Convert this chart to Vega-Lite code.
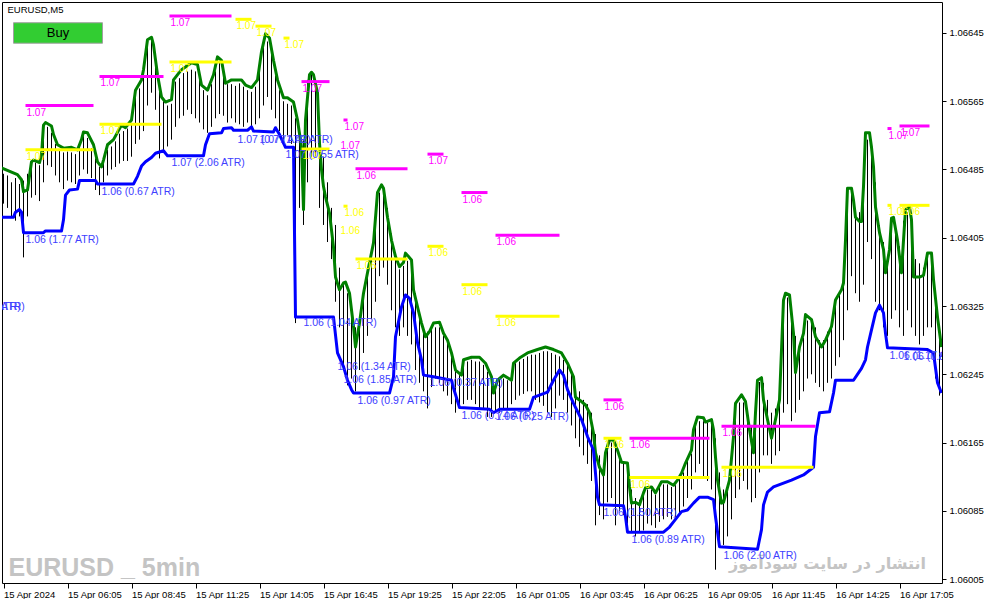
{
"$schema": "https://vega.github.io/schema/vega-lite/v6.json",
"width": 940, "height": 581,
"padding": {"left": 2, "top": 2, "right": 0, "bottom": 0},
"background": "white",
"config": {
 "view": {"stroke": "#000000", "strokeWidth": 1},
 "axis": {"domain": false, "grid": false, "tickColor": "#000000", "labelColor": "#000000", "labelFont": "Liberation Sans, sans-serif", "labelFontSize": 9.5, "title": null}
},
"datasets": {
 "bars": [
{"i":0,"p":1.0648,"l":1.06445},{"i":2,"p":1.06478,"l":1.0644},{"i":4,"p":1.0647,"l":1.0643},{"i":6,"p":1.06475,"l":1.06425},{"i":8,"p":1.06468,"l":1.0643},{"i":10,"p":1.06472,"l":1.06382},{"i":12,"p":1.0648,"l":1.0643},{"i":14,"p":1.0649,"l":1.06452},{"i":16,"p":1.06493,"l":1.06455},{"i":18,"p":1.0649,"l":1.06448},
{"i":20,"p":1.0653,"l":1.0647},{"i":22,"p":1.06535,"l":1.0649},{"i":24,"p":1.06528,"l":1.06488},{"i":26,"p":1.06515,"l":1.06478},{"i":28,"p":1.06508,"l":1.0647},{"i":30,"p":1.06505,"l":1.06462},{"i":32,"p":1.06506,"l":1.06472},{"i":34,"p":1.06505,"l":1.0647},{"i":36,"p":1.06503,"l":1.06468},{"i":38,"p":1.06512,"l":1.06478},
{"i":40,"p":1.06524,"l":1.06485},{"i":42,"p":1.06522,"l":1.0648},{"i":44,"p":1.0651,"l":1.06475},{"i":46,"p":1.06498,"l":1.06461},{"i":48,"p":1.06488,"l":1.06455},{"i":50,"p":1.06492,"l":1.0647},{"i":52,"p":1.06508,"l":1.06478},{"i":54,"p":1.06512,"l":1.06485},{"i":56,"p":1.06518,"l":1.06488},{"i":58,"p":1.06527,"l":1.06492},
{"i":60,"p":1.0653,"l":1.06495},{"i":62,"p":1.06533,"l":1.06495},{"i":64,"p":1.06538,"l":1.065},{"i":66,"p":1.0657,"l":1.06515},{"i":68,"p":1.0658,"l":1.0652},{"i":70,"p":1.06596,"l":1.0653},{"i":72,"p":1.06632,"l":1.0656},{"i":74,"p":1.06636,"l":1.06575},{"i":76,"p":1.0661,"l":1.06555},{"i":78,"p":1.0658,"l":1.06498},
{"i":80,"p":1.06565,"l":1.06505},{"i":82,"p":1.0656,"l":1.06512},{"i":84,"p":1.06562,"l":1.0652},{"i":86,"p":1.06588,"l":1.06535},{"i":88,"p":1.06592,"l":1.06545},{"i":90,"p":1.06598,"l":1.06548},{"i":92,"p":1.066,"l":1.06555},{"i":94,"p":1.06602,"l":1.0655},{"i":96,"p":1.066,"l":1.06545},{"i":98,"p":1.0659,"l":1.0654},
{"i":100,"p":1.06578,"l":1.06532},{"i":102,"p":1.06572,"l":1.06528},{"i":104,"p":1.06585,"l":1.06535},{"i":106,"p":1.066,"l":1.06545},{"i":108,"p":1.0661,"l":1.0655},{"i":110,"p":1.06595,"l":1.06548},{"i":112,"p":1.06585,"l":1.0654},{"i":114,"p":1.06585,"l":1.06545},{"i":116,"p":1.06583,"l":1.0654},{"i":118,"p":1.06586,"l":1.06538},
{"i":120,"p":1.06582,"l":1.06535},{"i":122,"p":1.06578,"l":1.0654},{"i":124,"p":1.06576,"l":1.06535},{"i":126,"p":1.06582,"l":1.06538},{"i":128,"p":1.06605,"l":1.06545},{"i":130,"p":1.06628,"l":1.0656},{"i":132,"p":1.06635,"l":1.0657},{"i":134,"p":1.0662,"l":1.06555},{"i":136,"p":1.06595,"l":1.06545},{"i":138,"p":1.06578,"l":1.0653},
{"i":140,"p":1.06565,"l":1.0652},{"i":142,"p":1.06562,"l":1.06525},{"i":144,"p":1.0656,"l":1.06515},{"i":146,"p":1.06545,"l":1.06305},{"i":148,"p":1.0653,"l":1.0644},{"i":150,"p":1.0652,"l":1.0642},{"i":152,"p":1.0659,"l":1.0647},{"i":154,"p":1.06597,"l":1.065},{"i":156,"p":1.0659,"l":1.065},{"i":158,"p":1.0654,"l":1.0644},
{"i":160,"p":1.065,"l":1.0642},{"i":162,"p":1.0647,"l":1.064},{"i":164,"p":1.0644,"l":1.0638},{"i":166,"p":1.0642,"l":1.0633},{"i":168,"p":1.0637,"l":1.063},{"i":170,"p":1.06352,"l":1.0625},{"i":172,"p":1.0634,"l":1.06232},{"i":174,"p":1.0633,"l":1.0624},{"i":176,"p":1.063,"l":1.06225},{"i":178,"p":1.06303,"l":1.0625},
{"i":180,"p":1.06335,"l":1.0627},{"i":182,"p":1.0636,"l":1.0629},{"i":184,"p":1.06388,"l":1.0631},{"i":186,"p":1.06425,"l":1.0633},{"i":188,"p":1.06458,"l":1.0636},{"i":190,"p":1.06455,"l":1.0637},{"i":192,"p":1.0644,"l":1.0635},{"i":194,"p":1.0641,"l":1.0632},{"i":196,"p":1.0638,"l":1.063},{"i":198,"p":1.06368,"l":1.0629},
{"i":200,"p":1.06372,"l":1.063},{"i":202,"p":1.06378,"l":1.0629},{"i":204,"p":1.06372,"l":1.0628},{"i":206,"p":1.0634,"l":1.0625},{"i":208,"p":1.06315,"l":1.06235},{"i":210,"p":1.063,"l":1.06225},{"i":212,"p":1.06295,"l":1.06205},{"i":214,"p":1.06298,"l":1.0623},{"i":216,"p":1.063,"l":1.0624},{"i":218,"p":1.063,"l":1.06235},
{"i":220,"p":1.0629,"l":1.06225},{"i":222,"p":1.06282,"l":1.0622},{"i":224,"p":1.06265,"l":1.0621},{"i":226,"p":1.0625,"l":1.062},{"i":228,"p":1.06244,"l":1.06205},{"i":230,"p":1.06258,"l":1.0621},{"i":232,"p":1.0626,"l":1.06215},{"i":234,"p":1.06262,"l":1.06215},{"i":236,"p":1.0626,"l":1.0621},{"i":238,"p":1.0626,"l":1.06205},
{"i":240,"p":1.06256,"l":1.06205},{"i":242,"p":1.06248,"l":1.06195},{"i":244,"p":1.0624,"l":1.06195},{"i":246,"p":1.06232,"l":1.062},{"i":248,"p":1.0624,"l":1.062},{"i":250,"p":1.0624,"l":1.06205},{"i":252,"p":1.06238,"l":1.06205},{"i":254,"p":1.06245,"l":1.0621},{"i":256,"p":1.06258,"l":1.06215},{"i":258,"p":1.0626,"l":1.0622},
{"i":260,"p":1.06263,"l":1.06222},{"i":262,"p":1.06266,"l":1.06225},{"i":264,"p":1.06268,"l":1.06225},{"i":266,"p":1.06268,"l":1.06215},{"i":268,"p":1.0627,"l":1.06212},{"i":270,"p":1.06272,"l":1.06208},{"i":272,"p":1.06272,"l":1.062},{"i":274,"p":1.0627,"l":1.06195},{"i":276,"p":1.06268,"l":1.06205},{"i":278,"p":1.06266,"l":1.0622},
{"i":280,"p":1.06262,"l":1.06215},{"i":282,"p":1.06255,"l":1.062},{"i":284,"p":1.06245,"l":1.06185},{"i":286,"p":1.0623,"l":1.0617},{"i":288,"p":1.06225,"l":1.0616},{"i":290,"p":1.06215,"l":1.0615},{"i":292,"p":1.0621,"l":1.0614},{"i":294,"p":1.062,"l":1.0612},{"i":296,"p":1.06175,"l":1.06068},{"i":298,"p":1.0615,"l":1.0608},
{"i":300,"p":1.0614,"l":1.06075},{"i":302,"p":1.06162,"l":1.06095},{"i":304,"p":1.06165,"l":1.061},{"i":306,"p":1.0616,"l":1.06068},{"i":308,"p":1.0615,"l":1.06085},{"i":310,"p":1.0614,"l":1.0608},{"i":312,"p":1.06135,"l":1.0607},{"i":314,"p":1.0611,"l":1.0606},{"i":316,"p":1.061,"l":1.06055},{"i":318,"p":1.06098,"l":1.0606},
{"i":320,"p":1.06105,"l":1.06062},{"i":322,"p":1.0611,"l":1.0607},{"i":324,"p":1.0611,"l":1.06068},{"i":326,"p":1.06104,"l":1.06065},{"i":328,"p":1.06112,"l":1.06072},{"i":330,"p":1.06116,"l":1.06075},{"i":332,"p":1.06116,"l":1.06078},{"i":334,"p":1.06113,"l":1.06075},{"i":336,"p":1.06115,"l":1.06078},{"i":338,"p":1.06122,"l":1.06082},
{"i":340,"p":1.0613,"l":1.0609},{"i":342,"p":1.06145,"l":1.061},{"i":344,"p":1.06152,"l":1.0611},{"i":346,"p":1.06185,"l":1.0613},{"i":348,"p":1.0619,"l":1.0614},{"i":350,"p":1.0619,"l":1.06125},{"i":352,"p":1.06188,"l":1.0612},{"i":354,"p":1.06186,"l":1.0611},{"i":356,"p":1.0617,"l":1.06016},{"i":358,"p":1.0613,"l":1.0605},
{"i":360,"p":1.0611,"l":1.06045},{"i":362,"p":1.06115,"l":1.06055},{"i":364,"p":1.0616,"l":1.06075},{"i":366,"p":1.06205,"l":1.061},{"i":368,"p":1.06212,"l":1.0611},{"i":370,"p":1.06212,"l":1.0612},{"i":372,"p":1.062,"l":1.0611},{"i":374,"p":1.06185,"l":1.06095},{"i":376,"p":1.0621,"l":1.061},{"i":378,"p":1.06236,"l":1.0613},
{"i":380,"p":1.06235,"l":1.0615},{"i":382,"p":1.06215,"l":1.0615},{"i":384,"p":1.062,"l":1.0614},{"i":386,"p":1.06205,"l":1.0615},{"i":388,"p":1.06225,"l":1.06155},{"i":390,"p":1.06325,"l":1.062},{"i":392,"p":1.06335,"l":1.0621},{"i":394,"p":1.0632,"l":1.0619},{"i":396,"p":1.0629,"l":1.062},{"i":398,"p":1.06275,"l":1.06215},
{"i":400,"p":1.06288,"l":1.06225},{"i":402,"p":1.06308,"l":1.0624},{"i":404,"p":1.06305,"l":1.06245},{"i":406,"p":1.063,"l":1.06235},{"i":408,"p":1.06285,"l":1.0623},{"i":410,"p":1.06285,"l":1.06225},{"i":412,"p":1.06295,"l":1.06235},{"i":414,"p":1.063,"l":1.0624},{"i":416,"p":1.06328,"l":1.06255},{"i":418,"p":1.0634,"l":1.06265},
{"i":420,"p":1.0635,"l":1.06285},{"i":422,"p":1.06455,"l":1.0632},{"i":424,"p":1.06458,"l":1.0636},{"i":426,"p":1.0644,"l":1.0634},{"i":428,"p":1.06435,"l":1.0633},{"i":430,"p":1.0646,"l":1.0635},{"i":432,"p":1.0652,"l":1.064},{"i":434,"p":1.06505,"l":1.0638},{"i":436,"p":1.0647,"l":1.0633},{"i":438,"p":1.0642,"l":1.0632},
{"i":440,"p":1.064,"l":1.063},{"i":442,"p":1.06385,"l":1.0629},{"i":444,"p":1.0642,"l":1.0631},{"i":446,"p":1.06415,"l":1.0632},{"i":448,"p":1.06395,"l":1.063},{"i":450,"p":1.06425,"l":1.0629},{"i":452,"p":1.06435,"l":1.0632},{"i":454,"p":1.0642,"l":1.063},{"i":456,"p":1.0638,"l":1.0629},{"i":458,"p":1.06375,"l":1.0628},
{"i":460,"p":1.0637,"l":1.0629},{"i":462,"p":1.0638,"l":1.063},{"i":464,"p":1.06385,"l":1.063},{"i":466,"p":1.0634,"l":1.0624},{"i":468,"p":1.063,"l":1.0622}
 ],
 "green": [
{"i":-1,"p":1.06487},{"i":4,"p":1.06482},{"i":7,"p":1.06479},{"i":9,"p":1.06473},{"i":10,"p":1.06459},{"i":12,"p":1.06461},{"i":14,"p":1.06494},{"i":15,"p":1.06496},{"i":18,"p":1.06493},{"i":19,"p":1.06502},{"i":20,"p":1.06537},{"i":21,"p":1.0654},{"i":24,"p":1.06536},{"i":25,"p":1.06526},{"i":27,"p":1.06514},{"i":30,"p":1.0651},{"i":34,"p":1.06511},{"i":37,"p":1.06508},{"i":39,"p":1.0652},{"i":40,"p":1.06529},{"i":42,"p":1.06528},{"i":45,"p":1.06514},{"i":47,"p":1.06494},{"i":49,"p":1.06488},{"i":50,"p":1.06496},{"i":52,"p":1.06514},{"i":55,"p":1.0652},{"i":59,"p":1.06537},{"i":61,"p":1.06534},{"i":64,"p":1.06543},{"i":66,"p":1.06578},{"i":69,"p":1.0659},{"i":70,"p":1.06602},{"i":72,"p":1.06637},{"i":74,"p":1.0664},{"i":75,"p":1.06631},{"i":77,"p":1.06596},{"i":79,"p":1.0657},{"i":81,"p":1.06564},{"i":84,"p":1.06567},{"i":85,"p":1.0659},{"i":89,"p":1.06602},{"i":94,"p":1.0661},{"i":97,"p":1.06608},{"i":99,"p":1.06584},{"i":102,"p":1.06578},{"i":105,"p":1.06596},{"i":107,"p":1.06617},{"i":109,"p":1.06613},{"i":111,"p":1.06586},{"i":114,"p":1.0659},{"i":119,"p":1.0659},{"i":121,"p":1.06584},{"i":124,"p":1.06581},{"i":127,"p":1.0659},{"i":129,"p":1.06623},{"i":131,"p":1.06644},{"i":133,"p":1.06639},{"i":135,"p":1.06613},{"i":137,"p":1.0659},{"i":140,"p":1.06569},{"i":142,"p":1.06569},{"i":145,"p":1.06564},{"i":147,"p":1.06543},{"i":149,"p":1.06511},{"i":150,"p":1.06438},{"i":151,"p":1.06543},{"i":153,"p":1.06596},{"i":154,"p":1.06599},{"i":155,"p":1.06596},{"i":157,"p":1.06575},{"i":158,"p":1.06516},{"i":159,"p":1.06485},{"i":160,"p":1.06465},{"i":161,"p":1.06453},{"i":163,"p":1.06434},{"i":165,"p":1.06394},{"i":166,"p":1.06359},{"i":168,"p":1.06344},{"i":170,"p":1.06352},{"i":171,"p":1.06353},{"i":173,"p":1.0634},{"i":175,"p":1.06301},{"i":176,"p":1.06277},{"i":178,"p":1.06305},{"i":180,"p":1.0634},{"i":182,"p":1.06364},{"i":185,"p":1.06399},{"i":187,"p":1.06458},{"i":189,"p":1.06467},{"i":190,"p":1.06463},{"i":192,"p":1.06429},{"i":194,"p":1.06402},{"i":196,"p":1.06383},{"i":198,"p":1.06371},{"i":200,"p":1.06376},{"i":201,"p":1.06387},{"i":204,"p":1.06379},{"i":205,"p":1.06344},{"i":207,"p":1.06324},{"i":209,"p":1.06305},{"i":211,"p":1.06289},{"i":213,"p":1.06295},{"i":215,"p":1.06305},{"i":218,"p":1.06306},{"i":220,"p":1.06293},{"i":222,"p":1.06285},{"i":224,"p":1.0627},{"i":226,"p":1.0625},{"i":229,"p":1.06244},{"i":230,"p":1.06262},{"i":234,"p":1.06265},{"i":238,"p":1.06265},{"i":241,"p":1.06258},{"i":244,"p":1.06242},{"i":245,"p":1.06223},{"i":247,"p":1.06238},{"i":250,"p":1.06244},{"i":254,"p":1.06238},{"i":255,"p":1.06258},{"i":258,"p":1.06264},{"i":262,"p":1.0627},{"i":267,"p":1.06274},{"i":271,"p":1.06277},{"i":275,"p":1.06274},{"i":279,"p":1.0627},{"i":282,"p":1.06258},{"i":285,"p":1.06242},{"i":286,"p":1.06218},{"i":289,"p":1.06213},{"i":291,"p":1.06209},{"i":293,"p":1.062},{"i":295,"p":1.06176},{"i":296,"p":1.06153},{"i":298,"p":1.06136},{"i":300,"p":1.06127},{"i":301,"p":1.06153},{"i":303,"p":1.06168},{"i":305,"p":1.06168},{"i":307,"p":1.06156},{"i":309,"p":1.06142},{"i":312,"p":1.06141},{"i":313,"p":1.06113},{"i":314,"p":1.06094},{"i":316,"p":1.06095},{"i":318,"p":1.06092},{"i":320,"p":1.06106},{"i":321,"p":1.06112},{"i":324,"p":1.06113},{"i":326,"p":1.06106},{"i":329,"p":1.06119},{"i":332,"p":1.06119},{"i":335,"p":1.06115},{"i":337,"p":1.06121},{"i":339,"p":1.06129},{"i":341,"p":1.06141},{"i":344,"p":1.06156},{"i":345,"p":1.0618},{"i":347,"p":1.06195},{"i":350,"p":1.06194},{"i":351,"p":1.06189},{"i":354,"p":1.06192},{"i":355,"p":1.0618},{"i":356,"p":1.06148},{"i":357,"p":1.06121},{"i":359,"p":1.06094},{"i":360,"p":1.06095},{"i":363,"p":1.06121},{"i":365,"p":1.06172},{"i":366,"p":1.06211},{"i":369,"p":1.06221},{"i":371,"p":1.06213},{"i":373,"p":1.0618},{"i":375,"p":1.06153},{"i":376,"p":1.062},{"i":377,"p":1.06238},{"i":379,"p":1.06241},{"i":380,"p":1.06215},{"i":382,"p":1.06192},{"i":384,"p":1.0617},{"i":386,"p":1.06192},{"i":388,"p":1.06215},{"i":390,"p":1.06332},{"i":391,"p":1.0634},{"i":393,"p":1.06338},{"i":395,"p":1.06293},{"i":396,"p":1.06247},{"i":398,"p":1.06277},{"i":400,"p":1.06293},{"i":401,"p":1.06315},{"i":404,"p":1.06309},{"i":406,"p":1.06289},{"i":409,"p":1.06277},{"i":411,"p":1.06285},{"i":414,"p":1.06301},{"i":416,"p":1.06332},{"i":419,"p":1.06344},{"i":420,"p":1.06352},{"i":421,"p":1.06402},{"i":422,"p":1.06463},{"i":424,"p":1.06463},{"i":425,"p":1.06449},{"i":426,"p":1.06429},{"i":428,"p":1.06424},{"i":429,"p":1.06424},{"i":430,"p":1.06465},{"i":431,"p":1.06528},{"i":433,"p":1.06528},{"i":434,"p":1.06511},{"i":435,"p":1.06488},{"i":436,"p":1.06441},{"i":438,"p":1.06411},{"i":440,"p":1.06391},{"i":441,"p":1.06364},{"i":443,"p":1.06391},{"i":444,"p":1.06428},{"i":445,"p":1.06429},{"i":447,"p":1.06402},{"i":449,"p":1.06364},{"i":450,"p":1.06402},{"i":451,"p":1.06438},{"i":453,"p":1.06441},{"i":454,"p":1.06426},{"i":455,"p":1.06359},{"i":458,"p":1.06359},{"i":460,"p":1.06361},{"i":462,"p":1.06387},{"i":464,"p":1.06387},{"i":465,"p":1.06356},{"i":467,"p":1.06312},{"i":469,"p":1.06277}
 ],
 "blue": [
{"i":-1,"p":1.06429},{"i":5,"p":1.06429},{"i":6,"p":1.06435},{"i":8,"p":1.06438},{"i":9,"p":1.06435},{"i":10,"p":1.06411},{"i":20,"p":1.06411},{"i":21,"p":1.06413},{"i":29,"p":1.06413},{"i":30,"p":1.06426},{"i":31,"p":1.06455},{"i":33,"p":1.06461},{"i":37,"p":1.06462},{"i":38,"p":1.06472},{"i":46,"p":1.06472},{"i":47,"p":1.06468},{"i":65,"p":1.06468},{"i":67,"p":1.06477},{"i":69,"p":1.06489},{"i":71,"p":1.06494},{"i":74,"p":1.06499},{"i":76,"p":1.06504},{"i":80,"p":1.06507},{"i":82,"p":1.06501},{"i":100,"p":1.06501},{"i":101,"p":1.06514},{"i":103,"p":1.06527},{"i":109,"p":1.06528},{"i":110,"p":1.06533},{"i":114,"p":1.06534},{"i":115,"p":1.06531},{"i":122,"p":1.06531},{"i":124,"p":1.06535},{"i":125,"p":1.0653},{"i":135,"p":1.06529},{"i":136,"p":1.06534},{"i":138,"p":1.06526},{"i":140,"p":1.06516},{"i":141,"p":1.06511},{"i":145,"p":1.06511},{"i":146,"p":1.06312},{"i":165,"p":1.06312},{"i":167,"p":1.0627},{"i":170,"p":1.06254},{"i":172,"p":1.06238},{"i":174,"p":1.06227},{"i":175,"p":1.06223},{"i":193,"p":1.06223},{"i":195,"p":1.06242},{"i":196,"p":1.06289},{"i":199,"p":1.06324},{"i":201,"p":1.06338},{"i":203,"p":1.06334},{"i":205,"p":1.06317},{"i":207,"p":1.06282},{"i":209,"p":1.06262},{"i":210,"p":1.06244},{"i":215,"p":1.06242},{"i":224,"p":1.06238},{"i":225,"p":1.06229},{"i":228,"p":1.06206},{"i":243,"p":1.06204},{"i":245,"p":1.062},{"i":248,"p":1.06204},{"i":263,"p":1.06204},{"i":265,"p":1.06218},{"i":272,"p":1.06224},{"i":275,"p":1.06238},{"i":278,"p":1.0625},{"i":280,"p":1.06244},{"i":282,"p":1.06227},{"i":285,"p":1.06211},{"i":289,"p":1.06192},{"i":292,"p":1.06172},{"i":295,"p":1.06156},{"i":296,"p":1.06129},{"i":297,"p":1.06101},{"i":298,"p":1.06092},{"i":310,"p":1.06091},{"i":311,"p":1.06078},{"i":312,"p":1.0606},{"i":330,"p":1.0606},{"i":333,"p":1.06066},{"i":335,"p":1.06072},{"i":339,"p":1.06084},{"i":342,"p":1.06086},{"i":345,"p":1.06094},{"i":348,"p":1.06101},{"i":352,"p":1.06101},{"i":355,"p":1.06098},{"i":356,"p":1.06078},{"i":358,"p":1.06043},{"i":377,"p":1.0604},{"i":379,"p":1.06063},{"i":380,"p":1.06092},{"i":382,"p":1.06107},{"i":385,"p":1.06113},{"i":394,"p":1.06121},{"i":400,"p":1.06127},{"i":405,"p":1.06136},{"i":406,"p":1.06172},{"i":408,"p":1.062},{"i":413,"p":1.06201},{"i":415,"p":1.06223},{"i":416,"p":1.06238},{"i":425,"p":1.06238},{"i":429,"p":1.06252},{"i":431,"p":1.06262},{"i":432,"p":1.06277},{"i":434,"p":1.06297},{"i":436,"p":1.06317},{"i":438,"p":1.06326},{"i":440,"p":1.06317},{"i":441,"p":1.06293},{"i":442,"p":1.06276},{"i":462,"p":1.06274},{"i":465,"p":1.0627},{"i":467,"p":1.06235},{"i":469,"p":1.06223}
 ],
 "seg": [
{"i":11,"i2":45,"p":1.0656,"c":"m","t":"1.07"},{"i":48,"i2":80,"p":1.06594,"c":"m","t":"1.07"},{"i":83,"i2":114,"p":1.06665,"c":"m","t":"1.07"},{"i":149,"i2":163,"p":1.06588,"c":"m","t":"1.07"},{"i":170,"i2":172,"p":1.06543,"c":"m","t":"1.07"},{"i":168,"i2":168,"p":1.06521,"c":"m","t":"1.07"},{"i":176,"i2":202,"p":1.06486,"c":"m","t":"1.06"},{"i":212,"i2":220,"p":1.06503,"c":"m","t":"1.07"},{"i":229,"i2":242,"p":1.06458,"c":"m","t":"1.06"},{"i":246,"i2":278,"p":1.06408,"c":"m","t":"1.06"},{"i":300,"i2":309,"p":1.06215,"c":"m","t":"1.06"},{"i":313,"i2":353,"p":1.0617,"c":"m","t":"1.06"},{"i":359,"i2":406,"p":1.06184,"c":"m","t":"1.06"},{"i":442,"i2":444,"p":1.06533,"c":"m","t":"1.07"},{"i":448,"i2":463,"p":1.06536,"c":"m","t":"1.07"},
{"i":11,"i2":45,"p":1.06508,"c":"y","t":"1.07"},{"i":48,"i2":79,"p":1.06538,"c":"y","t":"1.07"},{"i":83,"i2":114,"p":1.06611,"c":"y","t":"1.07"},{"i":116,"i2":124,"p":1.06661,"c":"y","t":"1.07"},{"i":126,"i2":134,"p":1.06653,"c":"y","t":"1.07"},{"i":140,"i2":143,"p":1.06639,"c":"y","t":"1.07"},{"i":149,"i2":163,"p":1.06509,"c":"y","t":"1.07"},{"i":170,"i2":172,"p":1.06442,"c":"y","t":"1.06"},{"i":168,"i2":168,"p":1.06421,"c":"y","t":"1.06"},{"i":176,"i2":202,"p":1.0638,"c":"y","t":"1.06"},{"i":212,"i2":220,"p":1.06395,"c":"y","t":"1.06"},{"i":229,"i2":242,"p":1.0635,"c":"y","t":"1.06"},{"i":246,"i2":278,"p":1.06313,"c":"y","t":"1.06"},{"i":300,"i2":309,"p":1.0617,"c":"y","t":"1.06"},{"i":313,"i2":353,"p":1.06124,"c":"y","t":"1.06"},{"i":359,"i2":405,"p":1.06136,"c":"y","t":"1.06"},{"i":442,"i2":444,"p":1.06443,"c":"y","t":"1.06"},{"i":448,"i2":463,"p":1.06443,"c":"y","t":"1.06"}
 ],
 "atr": [
{"i":11,"p":1.06402,"t":"1.06 (1.77 ATR)"},{"i":49,"p":1.06459,"t":"1.06 (0.67 ATR)"},{"i":84,"p":1.06493,"t":"1.07 (2.06 ATR)"},{"i":117,"p":1.0652,"t":"1.07 (0.77 ATR)"},{"i":128,"p":1.0652,"t":"1.07 (1.42 ATR)"},{"i":141,"p":1.06502,"t":"1.07 (0.55 ATR)"},{"i":150,"p":1.06305,"t":"1.06 (1.04 ATR)"},{"i":167,"p":1.06254,"t":"1.06 (1.34 ATR)"},{"i":170,"p":1.06238,"t":"1.06 (1.85 ATR)"},{"i":177,"p":1.06214,"t":"1.06 (0.97 ATR)"},{"i":213,"p":1.06235,"t":"1.06 (0.37 ATR)"},{"i":229,"p":1.06196,"t":"1.06 (0.74 ATR)"},{"i":246,"p":1.06195,"t":"1.06 (0.25 ATR)"},{"i":300,"p":1.06083,"t":"1.06 (1.50 ATR)"},{"i":314,"p":1.06051,"t":"1.06 (0.89 ATR)"},{"i":360,"p":1.06032,"t":"1.06 (2.00 ATR)"},{"i":443,"p":1.06267,"t":"1.06 (1.17 ATR)"},{"i":450,"p":1.06265,"t":"1.06 (0.87 ATR)"},{"i":-28,"p":1.06324,"t":"1.06 (1.04 ATR)"},{"i":-26,"p":1.06324,"t":"1.06 (0.93 ATR)"}
 ]
},
"encoding": {
 "x": {"field": "i", "type": "quantitative", "scale": {"domain": [-0.75, 469.25], "nice": false, "zero": false}},
 "y": {"field": "p", "type": "quantitative", "scale": {"domain": [1.060004, 1.066813], "nice": false, "zero": false}}
},
"layer": [
 {"data": {"values": [{"i": 412, "p": 1.06017, "t": "انتشار در سایت سودآموز"}]},
  "mark": {"type": "text", "font": "DejaVu Sans", "fontWeight": "bold", "fontSize": 16, "color": "#c4c4c4", "align": "center", "baseline": "alphabetic", "clip": true},
  "encoding": {"text": {"field": "t"}}},
 {"data": {"values": [{"i": 2.5, "p": 1.06009, "t": "EURUSD _ 5min"}]},
  "mark": {"type": "text", "font": "Liberation Sans", "fontWeight": "bold", "fontSize": 25, "color": "#c4c4c4", "align": "left", "baseline": "alphabetic", "clip": true},
  "encoding": {"text": {"field": "t"}}},
 {"data": {"name": "bars"},
  "mark": {"type": "rule", "color": "#000000", "strokeWidth": 1, "clip": true},
  "encoding": {
   "x": {"field": "i", "type": "quantitative", "axis": {"orient": "bottom", "values": [0,32,64,96,128,160,192,224,256,288,320,352,384,416,448], "labelExpr": "['15 Apr 2024','15 Apr 06:05','15 Apr 08:45','15 Apr 11:25','15 Apr 14:05','15 Apr 16:45','15 Apr 19:25','15 Apr 22:05','16 Apr 01:05','16 Apr 03:45','16 Apr 06:25','16 Apr 09:05','16 Apr 11:45','16 Apr 14:25','16 Apr 17:05'][round(datum.value/32)]", "labelAlign": "left", "labelBaseline": "top", "tickSize": 5, "labelPadding": 1, "labelOverlap": false, "labelFlush": false, "labelBound": false}},
   "y": {"field": "p", "type": "quantitative", "axis": {"orient": "right", "values": [1.06005,1.06045,1.06085,1.06125,1.06165,1.06205,1.06245,1.06285,1.06325,1.06365,1.06405,1.06445,1.06485,1.06525,1.06565,1.06605,1.06645], "format": ".5f", "tickSize": 4, "labelPadding": 3, "labelOverlap": false, "labelFlush": false, "labelBound": false}},
   "y2": {"field": "l"}}},
 {"data": {"name": "green"},
  "mark": {"type": "line", "color": "#008000", "strokeWidth": 3, "strokeJoin": "round", "clip": true},
  "encoding": {}},
 {"data": {"name": "blue"},
  "mark": {"type": "line", "color": "#0000ff", "strokeWidth": 3, "strokeJoin": "round", "clip": true},
  "encoding": {}},
 {"data": {"name": "seg"},
  "mark": {"type": "rule", "strokeWidth": 3, "clip": true},
  "encoding": {"x2": {"field": "i2"}, "color": {"field": "c", "type": "nominal", "scale": {"domain": ["m", "y"], "range": ["#ff00ff", "#ffff00"]}, "legend": null}}},
 {"data": {"name": "seg"},
  "mark": {"type": "text", "font": "Liberation Sans", "fontSize": 10, "align": "left", "baseline": "top", "dx": 1, "dy": 2, "clip": true},
  "encoding": {"text": {"field": "t"}, "color": {"field": "c", "type": "nominal", "legend": null}}},
 {"data": {"name": "atr"},
  "mark": {"type": "text", "font": "Liberation Sans", "fontSize": 10.5, "color": "#4040ff", "align": "left", "baseline": "middle", "clip": true},
  "encoding": {"text": {"field": "t"}}},
 {"data": {"values": [{"i": 2, "p": 1.06672, "t": "EURUSD,M5"}]},
  "mark": {"type": "text", "font": "Liberation Sans", "fontSize": 9.5, "color": "#000000", "align": "left", "baseline": "middle", "clip": true},
  "encoding": {"text": {"field": "t"}}},
 {"data": {"values": [{"i": 5, "i2": 49.5, "p": 1.06657, "p2": 1.06633}]},
  "mark": {"type": "rect", "color": "#32cd32", "stroke": "#a0a0a0", "strokeWidth": 1, "clip": true},
  "encoding": {"x2": {"field": "i2"}, "y2": {"field": "p2"}}},
 {"data": {"values": [{"i": 27.25, "p": 1.06645, "t": "Buy"}]},
  "mark": {"type": "text", "font": "Liberation Sans", "fontSize": 13, "color": "#000000", "align": "center", "baseline": "middle", "clip": true},
  "encoding": {"text": {"field": "t"}}}
]
}
